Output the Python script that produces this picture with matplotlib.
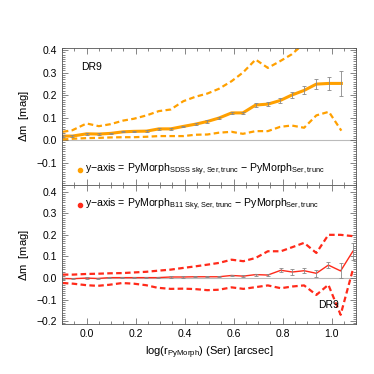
import numpy as np
import matplotlib.pyplot as plt
from matplotlib.ticker import MultipleLocator

plt.rcParams['font.family'] = ['Liberation Sans', 'DejaVu Sans']
plt.rcParams['mathtext.fontset'] = 'custom'
plt.rcParams['mathtext.rm'] = 'Liberation Sans'

# bin centres in log(r)
x_top = [-0.097, -0.058, 0.0, 0.05, 0.098, 0.15, 0.193, 0.245, 0.295, 0.343,
         0.395, 0.445, 0.493, 0.54, 0.592, 0.638, 0.69, 0.74, 0.79, 0.837,
         0.888, 0.938, 0.989, 1.04]
x_bot = [-0.097, -0.055, 0.0, 0.045, 0.093, 0.145, 0.193, 0.243, 0.29, 0.343,
         0.395, 0.443, 0.493, 0.54, 0.592, 0.64, 0.69, 0.74, 0.793, 0.84,
         0.888, 0.938, 0.987, 1.037, 1.087]

# SDSS sky - PyMorph sky
sdss_med = [0.018, 0.018, 0.028, 0.027, 0.030, 0.037, 0.039, 0.040, 0.050, 0.050,
            0.061, 0.071, 0.083, 0.098, 0.121, 0.121, 0.156, 0.160, 0.176, 0.200,
            0.221, 0.249, 0.252, 0.252]
sdss_err = [0.003, 0.003, 0.003, 0.003, 0.003, 0.003, 0.003, 0.003, 0.004, 0.004,
            0.004, 0.004, 0.005, 0.005, 0.006, 0.006, 0.008, 0.008, 0.01, 0.012,
            0.018, 0.022, 0.03, 0.057]
sdss_hi = [0.037, 0.044, 0.074, 0.062, 0.071, 0.087, 0.095, 0.110, 0.129, 0.136,
           0.173, 0.193, 0.207, 0.228, 0.262, 0.300, 0.358, 0.321, 0.351, 0.381,
           0.430, 0.480, 0.520, 0.560]
sdss_lo = [0.003, 0.006, 0.009, 0.010, 0.012, 0.013, 0.013, 0.015, 0.018, 0.018,
           0.018, 0.024, 0.025, 0.033, 0.037, 0.028, 0.040, 0.040, 0.059, 0.065,
           0.055, 0.110, 0.126, 0.042]

# B11 sky - PyMorph sky
b11_med = [-0.002, -0.003, 0.0, -0.002, 0.002, 0.002, 0.002, 0.002, 0.002, 0.005,
           0.005, 0.006, 0.006, 0.006, 0.012, 0.009, 0.016, 0.014, 0.036, 0.028,
           0.034, 0.022, 0.060, 0.033, 0.124]
b11_err = [0.003, 0.003, 0.003, 0.003, 0.003, 0.003, 0.003, 0.003, 0.003, 0.003,
           0.003, 0.003, 0.003, 0.003, 0.004, 0.004, 0.005, 0.005, 0.01, 0.012,
           0.012, 0.015, 0.015, 0.035, 0.04]
b11_hi = [0.016, 0.016, 0.019, 0.020, 0.022, 0.023, 0.026, 0.029, 0.034, 0.039,
          0.047, 0.054, 0.062, 0.070, 0.085, 0.078, 0.093, 0.124, 0.124, 0.143,
          0.163, 0.116, 0.200, 0.200, 0.194]
b11_lo = [-0.023, -0.026, -0.033, -0.036, -0.031, -0.023, -0.026, -0.033, -0.045, -0.050,
          -0.049, -0.051, -0.056, -0.054, -0.043, -0.050, -0.042, -0.034, -0.047, -0.039,
          -0.034, -0.078, -0.031, -0.170, 0.039]

orange = '#FFA000'
red = '#FF2A1A'
fs = 8
tfs = 7.5

fig = plt.figure(figsize=(3.74, 3.74), dpi=100)
ax1 = fig.add_axes([0.166, 0.505, 0.786, 0.367])
ax2 = fig.add_axes([0.166, 0.134, 0.786, 0.371], sharex=ax1)

for ax in (ax1, ax2):
    ax.axhline(0, color='#BBBBBB', lw=0.8, zorder=1)
    ax.set_xlim(-0.1, 1.1)
    ax.xaxis.set_major_locator(MultipleLocator(0.2))
    ax.xaxis.set_minor_locator(MultipleLocator(0.05))
    ax.yaxis.set_major_locator(MultipleLocator(0.1))
    ax.yaxis.set_minor_locator(MultipleLocator(0.01))
    ax.tick_params(which='both', direction='in', top=True, right=True,
                   labelsize=tfs, width=0.5, color='#555555')
    ax.tick_params(which='major', length=4)
    ax.tick_params(which='minor', length=2)
    for s in ax.spines.values():
        s.set_linewidth(0.6)
        s.set_color('#555555')
    ax.set_ylabel(r'$\Delta$m  [mag]', fontsize=fs)

# top panel
ax1.plot(x_top, sdss_hi, '--', color=orange, lw=1.6, dashes=(2.5, 1.5))
ax1.plot(x_top, sdss_lo, '--', color=orange, lw=1.6, dashes=(2.5, 1.5))
ax1.plot(x_top, sdss_med, '-', color=orange, lw=2.2)
ax1.errorbar(x_top, sdss_med, yerr=sdss_err, fmt='none', ecolor='#888888',
             elinewidth=0.6, capsize=1.5, capthick=0.6)
ax1.set_ylim(-0.2, 0.41)
ax1.set_yticks([-0.1, 0.0, 0.1, 0.2, 0.3, 0.4])
ax1.tick_params(labelbottom=False)
ax1.text(-0.024, 0.324, 'DR9', fontsize=tfs, va='center')
ax1.plot(-0.028, -0.133, 'o', color=orange, ms=3)
ax1.text(-0.005, -0.133,
         r'y$-$axis = PyMorph$_{\rm SDSS\ sky,Ser,trunc}$ $-$ PyMorph$_{\rm Ser,trunc}$',
         fontsize=7.6, va='center')

# bottom panel
ax2.plot(x_bot, b11_hi, '--', color=red, lw=1.6, dashes=(2.5, 1.5))
ax2.plot(x_bot, b11_lo, '--', color=red, lw=1.6, dashes=(2.5, 1.5))
ax2.plot(x_bot, b11_med, '-', color=red, lw=1.0)
ax2.errorbar(x_bot, b11_med, yerr=b11_err, fmt='none', ecolor='#888888',
             elinewidth=0.6, capsize=1.5, capthick=0.6)
ax2.set_ylim(-0.212, 0.43)
ax2.set_yticks([-0.2, -0.1, 0.0, 0.1, 0.2, 0.3, 0.4])
ax2.text(0.945, -0.124, 'DR9', fontsize=tfs, va='center')
ax2.plot(-0.028, 0.34, 'o', color=red, ms=3)
ax2.text(-0.005, 0.34,
         r'y$-$axis = PyMorph$_{\rm B11\ Sky,Ser,trunc}$ $-$ PyMorph$_{\rm Ser,trunc}$',
         fontsize=7.6, va='center')
ax2.set_xlabel(r'log(r$_{\rm PyMorph}$) (Ser) [arcsec]', fontsize=fs)

fig.savefig('out.png', dpi=100)
